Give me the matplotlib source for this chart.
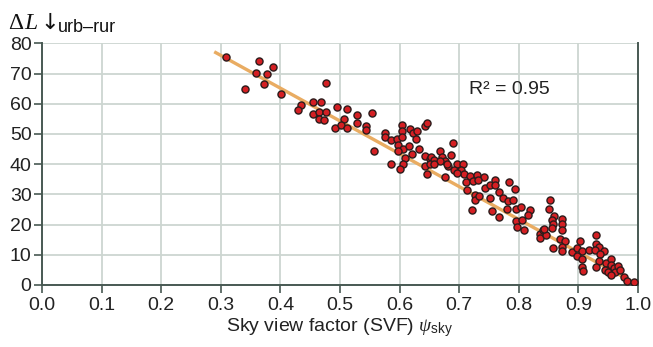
import matplotlib
matplotlib.use("Agg")
import matplotlib.pyplot as plt

# sky view factor vs. downward longwave difference
svf = [0.308, 0.364, 0.388, 0.359, 0.377, 0.372, 0.340, 0.476, 0.401, 0.435,
       0.429, 0.454, 0.468, 0.454, 0.465, 0.476, 0.464, 0.474, 0.495, 0.491,
       0.512, 0.506, 0.529, 0.529, 0.553, 0.501, 0.512, 0.544, 0.544, 0.575,
       0.575, 0.585, 0.595, 0.604, 0.604, 0.604, 0.618, 0.623, 0.630, 0.627,
       0.642, 0.646, 0.598, 0.605, 0.615, 0.598, 0.557, 0.633, 0.620, 0.609,
       0.585, 0.605, 0.601, 0.642, 0.651, 0.653, 0.657, 0.667, 0.671, 0.676,
       0.667, 0.642, 0.651, 0.657, 0.646, 0.676, 0.682, 0.690, 0.686, 0.679,
       0.696, 0.707, 0.691, 0.703, 0.708, 0.696, 0.718, 0.730, 0.741, 0.712,
       0.723, 0.732, 0.744, 0.752, 0.760, 0.760, 0.713, 0.726, 0.726, 0.733,
       0.752, 0.766, 0.774, 0.782, 0.790, 0.784, 0.793, 0.780, 0.795, 0.803,
       0.818, 0.816, 0.722, 0.755, 0.766, 0.795, 0.806, 0.797, 0.808, 0.835,
       0.841, 0.835, 0.846, 0.852, 0.850, 0.859, 0.855, 0.858, 0.873, 0.872,
       0.842, 0.855, 0.873, 0.869, 0.877, 0.858, 0.873, 0.873, 0.889, 0.902,
       0.897, 0.906, 0.897, 0.906, 0.906, 0.907, 0.917, 0.929, 0.929, 0.935,
       0.928, 0.943, 0.936, 0.935, 0.929, 0.947, 0.954, 0.954, 0.944, 0.950,
       0.959, 0.962, 0.967, 0.969, 0.955, 0.976, 0.982, 0.994]
dL = [75.6, 74.1, 72.3, 70.3, 69.8, 66.4, 64.8, 67.0, 63.1, 59.5,
      57.8, 60.6, 60.6, 56.7, 57.4, 57.4, 55.1, 54.6, 58.9, 52.1,
      58.4, 55.0, 56.2, 53.5, 56.8, 52.8, 51.8, 52.6, 51.3, 50.4,
      49.1, 47.9, 48.2, 52.8, 50.9, 49.1, 51.5, 50.4, 50.9, 48.4,
      52.6, 53.5, 46.5, 45.1, 45.9, 44.3, 44.3, 44.9, 43.2, 42.1,
      40.1, 39.9, 38.4, 42.6, 41.8, 42.4, 41.5, 44.3, 42.4, 41.0,
      41.0, 39.5, 39.9, 39.9, 36.8, 35.6, 39.3, 47.1, 43.0, 40.2,
      39.9, 39.9, 38.0, 38.2, 36.9, 37.1, 36.2, 36.5, 35.8, 34.0,
      34.3, 34.9, 32.1, 33.2, 34.9, 33.2, 31.6, 29.9, 28.2, 29.3,
      28.8, 30.7, 28.8, 27.7, 28.0, 34.0, 31.8, 25.1, 25.1, 25.8,
      24.7, 23.3, 24.7, 24.6, 22.5, 21.3, 21.6, 19.2, 18.3, 16.9,
      18.3, 15.5, 16.6, 28.2, 25.2, 22.7, 21.6, 20.3, 21.9, 20.2,
      18.5, 18.8, 18.3, 15.2, 14.4, 12.4, 12.7, 11.1, 10.9, 14.4,
      12.4, 11.1, 9.6, 8.6, 5.9, 4.7, 11.6, 16.6, 13.6, 12.7,
      11.6, 11.1, 10.2, 8.0, 5.9, 7.2, 8.5, 6.6, 5.0, 4.4,
      5.7, 4.4, 6.3, 4.8, 3.3, 2.6, 1.4, 1.1]

# regression line end points
fit_x = [0.289, 1.0]
fit_y = [77.2, 0.0]

x_ticks = [0.0, 0.1, 0.2, 0.3, 0.4, 0.5, 0.6, 0.7, 0.8, 0.9, 1.0]
y_ticks = [0, 10, 20, 30, 40, 50, 60, 70, 80]

plt.rcParams["font.family"] = ["Liberation Sans", "DejaVu Sans"]
plt.rcParams["mathtext.fontset"] = "custom"
plt.rcParams["mathtext.rm"] = "Liberation Sans"
plt.rcParams["mathtext.it"] = "Liberation Serif:italic"

dark = "#485953"
gridc = "#cdd6d1"
txt = "#222222"

fig = plt.figure(figsize=(6.53, 3.47), dpi=100)
ax = fig.add_axes([0.0643, 0.1787, 0.9127, 0.6965])

ax.plot(fit_x, fit_y, color="#e9ac62", lw=2.4, zorder=2, solid_capstyle="butt")
ax.scatter(svf, dL, s=26, facecolor="#d41f23", edgecolor="#2b1b1b", linewidth=1.0, zorder=3)

ax.set_xlim(0, 1.0)
ax.set_ylim(0, 80)
ax.set_xticks(x_ticks)
ax.set_xticklabels(["%.1f" % t for t in x_ticks])
ax.set_yticks(y_ticks)
ax.grid(True, color=gridc, lw=1.3, zorder=0)
ax.set_axisbelow(True)

for s in ["left", "bottom", "right"]:
    ax.spines[s].set_color(dark)
    ax.spines[s].set_linewidth(1.4)
ax.spines["top"].set_visible(False)
ax.tick_params(axis="both", direction="out", length=5.5, width=1.2, color=dark,
               labelsize=14, labelcolor=txt)
ax.tick_params(axis="x", pad=3.5)
ax.tick_params(axis="y", pad=2)

ax.set_xlabel(r"Sky view factor (SVF) $\psi_{\rm sky}$", fontsize=14, color=txt, labelpad=1.5)

# y label drawn piece by piece at the top left
fig.text(8 / 653, 1 - 29 / 347, "Δ", fontsize=17, family="Liberation Serif", color="#111111", va="baseline")
fig.text(24 / 653, 1 - 29 / 347, "L", fontsize=17, family="Liberation Serif", style="italic", color="#111111", va="baseline")
fig.text(40 / 653, 1 - 29 / 347, "↓", fontsize=16, family="DejaVu Sans", color="#111111", va="baseline")
fig.text(58 / 653, 1 - 32 / 347, "urb–rur", fontsize=13, color="#111111", va="baseline")

ax.text(0.716, 64.7, "R² = 0.95", fontsize=14, va="center", color=txt)

plt.savefig("out.png", dpi=100)
